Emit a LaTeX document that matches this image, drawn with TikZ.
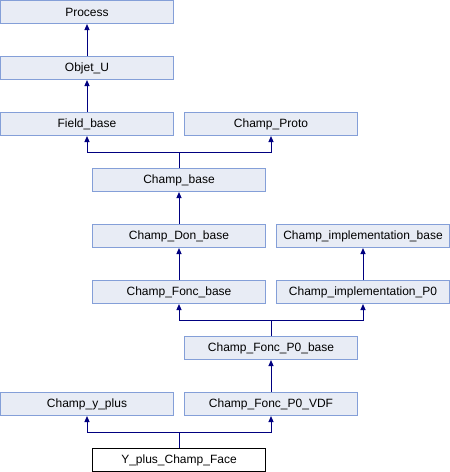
\documentclass[tikz,border=0pt]{standalone}
\usepackage{fontspec}
\setmainfont{Liberation Sans}
\usetikzlibrary{arrows.meta}
\definecolor{boxfill}{HTML}{E8ECF5}
\definecolor{boxline}{HTML}{849FD8}
\definecolor{edgecol}{HTML}{000080}
\begin{document}
\begin{tikzpicture}[x=1pt,y=-1pt,
  cls/.style={draw=boxline, fill=boxfill, line width=1pt, minimum width=173pt,
    minimum height=23pt, inner sep=0pt, font=\fontsize{12}{14}\selectfont},
  selfcls/.style={cls, draw=black, fill=white},
  link/.style={draw=edgecol, line width=1pt},
  inh/.style={link, -{Triangle[width=5pt,length=6pt]}}]
\useasboundingbox (0,0) rectangle (450,472);

% class boxes
\node[cls] (process)   at (87,12)   {Process};
\node[cls] (objetu)    at (87,68)   {Objet\_U};
\node[cls] (fieldbase) at (87,124)  {Field\_base};
\node[cls] (proto)     at (271,124) {Champ\_Proto};
\node[cls] (champbase) at (179,180) {Champ\_base};
\node[cls] (donbase)   at (179,236) {Champ\_Don\_base};
\node[cls] (implbase)  at (363,236) {Champ\_implementation\_base};
\node[cls] (foncbase)  at (179,292) {Champ\_Fonc\_base};
\node[cls] (implpz)    at (363,292) {Champ\_implementation\_P0};
\node[cls] (p0base)    at (271,348) {Champ\_Fonc\_P0\_base};
\node[cls] (yplus)     at (87,404)  {Champ\_y\_plus};
\node[cls] (p0vdf)     at (271,404) {Champ\_Fonc\_P0\_VDF};
\node[selfcls] (face)  at (179,460) {Y\_plus\_Champ\_Face};

% junction points of multiple inheritance
\coordinate (j1) at (179,152.5);
\coordinate (j2) at (271,320.5);
\coordinate (j3) at (179,432.5);

% inheritance arrows
\draw[inh] (objetu) -- (process);
\draw[inh] (fieldbase) -- (objetu);
\draw[link] (champbase.north) -- (j1);
\draw[inh] (j1) -| (fieldbase.south);
\draw[inh] (j1) -| (proto.south);
\draw[inh] (donbase) -- (champbase);
\draw[inh] (foncbase) -- (donbase);
\draw[inh] (implpz) -- (implbase);
\draw[link] (p0base.north) -- (j2);
\draw[inh] (j2) -| (foncbase.south);
\draw[inh] (j2) -| (implpz.south);
\draw[inh] (p0vdf) -- (p0base);
\draw[link] (face.north) -- (j3);
\draw[inh] (j3) -| (yplus.south);
\draw[inh] (j3) -| (p0vdf.south);
\end{tikzpicture}
\end{document}
